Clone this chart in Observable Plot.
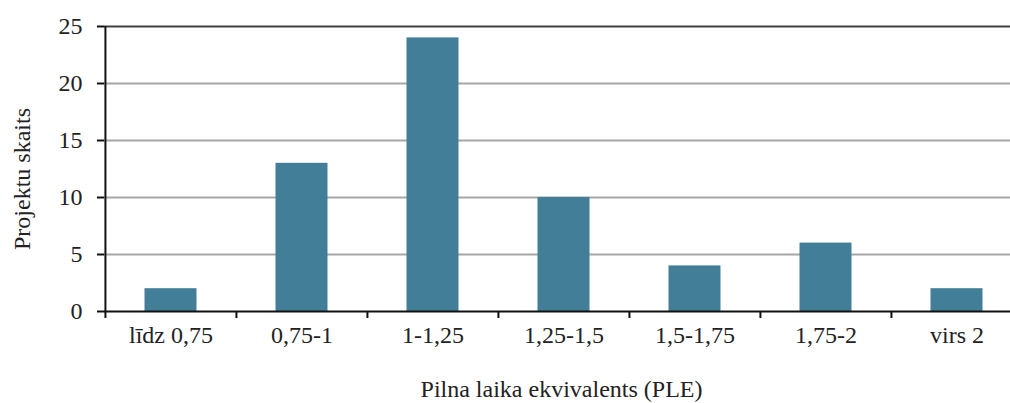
<!DOCTYPE html>
<html>
<head>
<meta charset="utf-8">
<script src="https://cdn.jsdelivr.net/npm/d3@7"></script>
<script src="https://cdn.jsdelivr.net/npm/@observablehq/plot@0.6"></script>
<style>
  html, body { margin: 0; padding: 0; background: #fff; overflow: hidden; }
  #chart svg { display: block; }
</style>
</head>
<body>
<div id="chart"></div>
<script>
const categories = ["līdz 0,75", "0,75-1", "1-1,25", "1,25-1,5", "1,5-1,75", "1,75-2", "virs 2"];
const values = [2, 13, 24, 10, 4, 6, 2];
const yTicks = [0, 5, 10, 15, 20, 25];
const xLabel = "Pilna laika ekvivalents (PLE)";
const yLabel = "Projektu skaits";

const data = categories.map((c, i) => ({category: c, value: values[i]}));

const W = 1010, H = 403;
const mLeft = 104, mTop = 26, mBottom = 92;
const xRange = [mLeft, 1022];
const step = (xRange[1] - xRange[0]) / categories.length;
const font = "'Liberation Serif', 'Times New Roman', serif";

const chart = Plot.plot({
  width: W,
  height: H,
  marginLeft: mLeft,
  marginRight: 0,
  marginTop: mTop,
  marginBottom: mBottom,
  style: {fontFamily: font, fontSize: "24px", color: "#222", background: "#fff"},
  x: {domain: categories, range: xRange, padding: 0},
  y: {domain: [0, 25]},
  marks: [
    Plot.ruleY(yTicks.filter(d => d > 0 && d < 25), {y: d => d, stroke: "#a6a6a6", strokeWidth: 2}),
    Plot.ruleY([25], {stroke: "#404040", strokeWidth: 2}),
    Plot.barY(data, {x: "category", y: "value", fill: "#437e98", insetLeft: 39.5, insetRight: 39.5}),
    Plot.ruleY([0], {stroke: "#111", strokeWidth: 2}),
    Plot.ruleX(categories, {x: d => d, dx: -step / 2, y1: 0, y2: 0, insetBottom: -7, stroke: "#111", strokeWidth: 2}),
    Plot.axisY({ticks: yTicks, tickSize: 7, tickPadding: 15, label: null, stroke: "#111", strokeWidth: 2}),
    Plot.ruleX([categories[0]], {x: d => d, dx: -step / 2, y1: 0, y2: 25, stroke: "#111", strokeWidth: 2}),
    Plot.axisX({tickSize: 0, tickPadding: 14, label: null}),
    Plot.text([xLabel], {frameAnchor: "bottom", dy: 78, dx: 4, fontSize: 24, lineAnchor: "middle"}),
    Plot.text([yLabel], {frameAnchor: "left", dx: -82, dy: 10, rotate: -90, fontSize: 24, textAnchor: "middle", lineAnchor: "middle"})
  ]
});
document.getElementById("chart").appendChild(chart);
</script>
</body>
</html>
